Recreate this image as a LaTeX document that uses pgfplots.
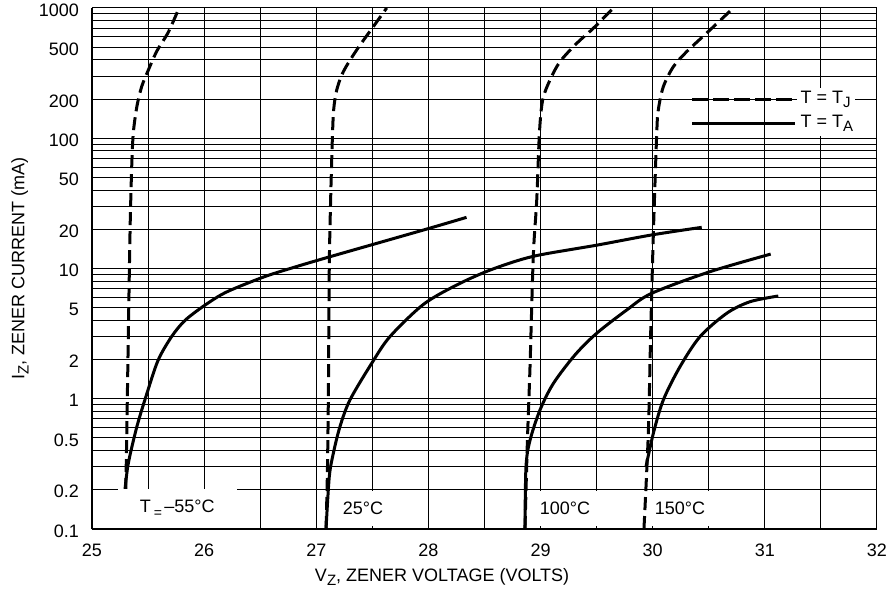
\documentclass[border=0pt]{standalone}
\usepackage{fontspec}
\setmainfont{Liberation Sans}
\usepackage{pgfplots}
\pgfplotsset{compat=1.18}
\newcommand\sub[1]{\raisebox{-0.45ex}{\fontsize{7.5}{8}\selectfont#1}}
\tikzset{
  tj/.style={black, line width=1.5pt, dash pattern=on 6.5pt off 3pt},
  ta/.style={black, line width=1.5pt},
  lbl/.style={fill=white, inner xsep=3.5pt, inner ysep=5.5pt},
}

\begin{document}
\begin{tikzpicture}[font=\fontsize{9}{10}\selectfont]
\useasboundingbox (-46pt,-31pt) rectangle (399.5pt,264.5pt);
\begin{axis}[
  at={(0pt,0pt)}, anchor=south west,
  scale only axis, width=392.5pt, height=260.5pt,
  xmin=25, xmax=32, ymin=0.1, ymax=1000, ymode=log,
  xtick={25,26,27,28,29,30,31,32},
  xticklabels={25,26,27,28,29,30,31,32},
  minor xtick={25.5,26.5,27.5,28.5,29.5,30.5,31.5},
  ytick={0.1,0.2,0.5,1,2,5,10,20,50,100,200,500,1000},
  yticklabels={0.1,0.2,0.5,1,2,5,10,20,50,100,200,500,1000},
  minor ytick={0.3,0.4,0.6,0.7,0.8,0.9,3,4,6,7,8,9,30,40,60,70,80,90,300,400,600,700,800,900},
  grid=both,
  major grid style={black, line width=0.5pt},
  minor grid style={black, line width=0.5pt},
  major tick length=0pt, minor tick length=0pt,
  axis x line*=bottom, axis y line*=left,
  axis line style={-, line width=1.1pt},
  tick label style={font=\fontsize{9}{10}\selectfont},
  xticklabel style={yshift=-4pt},
  yticklabel style={xshift=-3pt, yshift=-1pt},
  xlabel={V\sub{Z}, ZENER VOLTAGE (VOLTS)},
  ylabel={I\sub{Z}, ZENER CURRENT (mA)},
  xlabel style={at={(axis description cs:0.446,-0.092)}, anchor=center},
  ylabel style={at={(axis description cs:-0.0917,0.5)}, anchor=center},
  legend style={at={(axis description cs:0.762,0.848)}, anchor=north west,
    draw=none, fill=none, inner sep=0pt, row sep=0pt,
    font=\fontsize{9}{10}\selectfont,
    nodes={fill=white, inner xsep=2pt, inner ysep=1.5pt, text height=6.5pt, text depth=2.5pt}},
  legend cell align=left,
  legend image code/.code={\draw[#1] (0pt,0pt) -- (51.5pt,0pt);},
]
\addlegendimage{black, line width=1.5pt, dash pattern=on 8pt off 2.5pt}
\addlegendentry{T = T\sub{J}}
\addlegendimage{black, line width=1.5pt}
\addlegendentry{T = T\sub{A}}

% T = -55 C
\addplot[tj, smooth, forget plot] coordinates {
  (25.294,0.1) (25.305,0.3) (25.315,1) (25.325,3.5) (25.335,12)
  (25.342,25) (25.354,60) (25.368,109) (25.40,175) (25.443,249)
  (25.50,330) (25.58,470) (25.68,650) (25.776,1000)
};
\addplot[ta, smooth, forget plot] coordinates {
  (25.294,0.2) (25.324,0.32) (25.40,0.61) (25.49,1.1) (25.59,1.98)
  (25.71,3.0) (25.83,4.0) (26.01,5.25) (26.2,6.6) (26.53,8.6)
  (26.8,10.2) (27.12,12.3) (27.96,19.8) (28.34,24.7)
};
% 25 C
\addplot[tj, smooth, forget plot] coordinates {
  (27.087,0.1) (27.099,0.268) (27.108,1.1) (27.116,10.3) (27.128,33.6)
  (27.143,97) (27.155,165) (27.182,234) (27.241,324) (27.36,476)
  (27.509,720) (27.628,1000)
};
\addplot[ta, smooth, forget plot] coordinates {
  (27.087,0.1) (27.116,0.252) (27.152,0.381) (27.211,0.61) (27.30,0.978)
  (27.494,1.87) (27.657,3.0) (27.955,5.3) (28.252,7.47) (28.56,9.8)
  (28.935,12.4) (29.50,15.1) (29.991,18.1) (30.437,20.7)
};
% 100 C
\addplot[tj, smooth, forget plot] coordinates {
  (28.861,0.1) (28.882,0.455) (28.906,1.76) (28.935,12.3) (28.966,33.6)
  (28.99,110) (29.019,197) (29.084,280) (29.173,387) (29.322,535)
  (29.47,698) (29.649,1000)
};
\addplot[ta, smooth, forget plot] coordinates {
  (28.861,0.1) (28.87,0.30) (28.906,0.48) (28.995,0.82) (29.114,1.31)
  (29.307,2.17) (29.50,3.18) (29.768,4.8) (29.991,6.45) (30.51,9.45)
  (31.052,12.9)
};
% 150 C
\addplot[tj, smooth, forget plot] coordinates {
  (29.922,0.1) (29.961,0.544) (29.982,3.18) (30.006,18.6) (30.036,109)
  (30.05,165) (30.095,249) (30.184,354) (30.303,462) (30.511,678)
  (30.719,1000)
};
\addplot[ta, smooth, forget plot] coordinates {
  (29.94,0.3) (30.006,0.544) (30.095,0.98) (30.243,1.76) (30.422,3.0)
  (30.66,4.53) (30.868,5.56) (31.12,6.15)
};

\node[lbl, inner xsep=11pt] at (axis cs:25.76,0.1437) {T\raisebox{-0.5ex}{\,\fontsize{7}{8}\selectfont=\,}–55°C};
\node[lbl, inner xsep=5pt] at (axis cs:27.417,0.1437) {25°C};
\node[lbl] at (axis cs:29.218,0.1437) {100°C};
\node[lbl] at (axis cs:30.243,0.1437) {150°C};
\end{axis}
\end{tikzpicture}
\end{document}
